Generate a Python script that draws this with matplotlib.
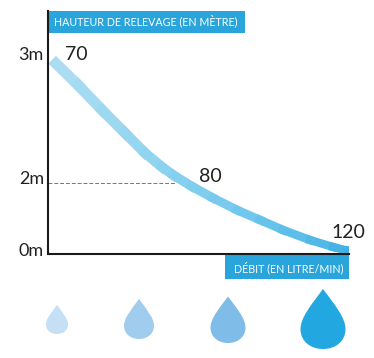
import matplotlib

matplotlib.use("Agg")
import matplotlib.pyplot as plt
import numpy as np
from matplotlib.collections import LineCollection
from matplotlib.colors import LinearSegmentedColormap
from matplotlib.patches import PathPatch, Rectangle
from matplotlib.path import Path

plt.rcParams["font.family"] = ["Lato", "DejaVu Sans"]

WIDTH, HEIGHT = 374, 358
AX_LEFT, AX_RIGHT, AX_TOP, AX_BOTTOM = 48, 349, 11, 254

# curve (free position along the axis, height above the axis)
curve_x = [8, 30, 54, 77, 97, 114, 126, 144, 165, 189, 212, 235, 262, 285, 301, 306]
curve_y = [190.5, 169, 144, 121, 101, 87, 78.5, 67.5, 56, 44, 34, 24, 14, 7, 3, 1.5]
curve_width = [7.8, 7.8, 7.6, 7.4, 7.2, 7.0, 6.8, 6.6, 6.4, 6.3, 6.2, 6.1, 6.0, 6.0, 6.0]

guide_height = 71
guide_end = 128

label_y = [5, 77, 201]
height_labels = ["0m", "2m", "3m"]
flow_x = [17, 151, 283]
flow_y = [200, 78, 22]
flow_labels = ["70", "80", "120"]

drop_x = [57, 139, 228, 323]
drop_bottom = [334, 339, 343, 349]
drop_height = [29, 40, 46.5, 60]
drop_width = [22, 30, 35, 45]
drop_colors = ["#c5dff5", "#a0ccee", "#7fbce8", "#22a7e0"]

header_color = "#29a5dc"
y_title = "HAUTEUR DE RELEVAGE (EN MÈTRE)"
x_title = "DÉBIT (EN LITRE/MIN)"

fig = plt.figure(figsize=(WIDTH / 100, HEIGHT / 100), dpi=100)

# full figure axes in pixels, holds the drops and title boxes
bg = fig.add_axes([0, 0, 1, 1])
bg.set_xlim(0, WIDTH)
bg.set_ylim(HEIGHT, 0)
bg.axis("off")

bg.add_patch(Rectangle((48, 11), 197, 22, color=header_color, lw=0))
bg.add_patch(Rectangle((225, 254), 124, 25, color=header_color, lw=0))
bg.text(54, 20.5, y_title, color="white", fontsize=7.7, va="center", ha="left")
bg.text(344, 267.5, x_title, color="white", fontsize=7.7, va="center", ha="right")

# unit drop, tip at the top (0, 1), round bottom at (0, 0)
drop_verts = [
    (0, 1),
    (0.28, 0.72), (0.5, 0.52), (0.5, 0.33),
    (0.5, 0.13), (0.28, 0), (0, 0),
    (-0.28, 0), (-0.5, 0.13), (-0.5, 0.33),
    (-0.5, 0.52), (-0.28, 0.72), (0, 1),
]
drop_codes = [Path.MOVETO] + [Path.CURVE4] * 12
for x, bottom, h, w, color in zip(
    drop_x, drop_bottom, drop_height, drop_width, drop_colors
):
    verts = [(x + vx * w, bottom - vy * h) for vx, vy in drop_verts]
    bg.add_patch(PathPatch(Path(verts, drop_codes), fc=color, ec="none"))

# plot area
ax = fig.add_axes(
    [
        AX_LEFT / WIDTH,
        1 - AX_BOTTOM / HEIGHT,
        (AX_RIGHT - AX_LEFT) / WIDTH,
        (AX_BOTTOM - AX_TOP) / HEIGHT,
    ]
)
ax.set_xlim(0, AX_RIGHT - AX_LEFT)
ax.set_ylim(0, AX_BOTTOM - AX_TOP)
ax.patch.set_alpha(0)

for side in ["top", "right"]:
    ax.spines[side].set_visible(False)
for side in ["left", "bottom"]:
    ax.spines[side].set_linewidth(1.5)
    ax.spines[side].set_color("#1a1a1a")

ax.set_xticks([])
ax.set_yticks(label_y, labels=height_labels)
ax.tick_params(axis="y", length=0, pad=3, labelsize=13, labelcolor="#222222")

# dashed guide at 2m
ax.plot(
    [0, guide_end],
    [guide_height, guide_height],
    color="#777777",
    lw=0.7,
    ls=(0, (4, 2)),
)

points = np.column_stack([curve_x, curve_y])
segments = np.stack([points[:-1], points[1:]], axis=1)
cmap = LinearSegmentedColormap.from_list(
    "flow", ["#abdcf2", "#8dd3f0", "#6cc5ec", "#3fb0e3"]
)
line = LineCollection(
    segments,
    cmap=cmap,
    linewidths=curve_width,
    capstyle="projecting",
    array=np.array(curve_x[:-1], dtype=float),
)
ax.add_collection(line)

for x, y, label in zip(flow_x, flow_y, flow_labels):
    ax.text(x, y, label, fontsize=14, color="#222222", va="center", ha="left")

fig.savefig("out.png", dpi=100)
